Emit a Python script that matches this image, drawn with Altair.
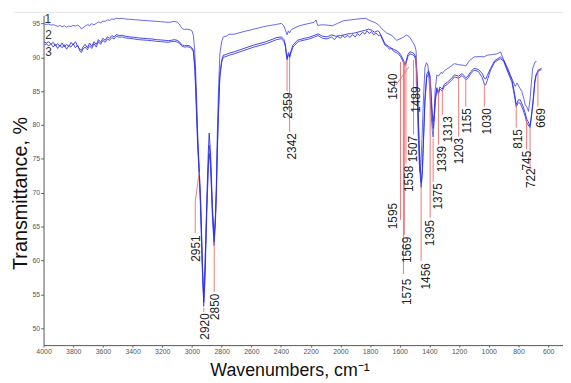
import altair as alt
import pandas as pd

# ---------------- data ----------------
CURVE_NAMES = ["1", "2", "3"]

CURVE_1 = [
    (3995, 94.9), (3980, 94.85), (3965, 94.9), (3950, 94.75), (3935, 94.8), (3920, 94.7), (3905, 94.55),
    (3890, 94.7), (3875, 94.5), (3860, 94.65), (3845, 94.45), (3830, 94.6), (3815, 94.55), (3800, 94.7),
    (3785, 94.6), (3770, 94.75), (3755, 94.5), (3745, 94.2), (3735, 94.35), (3720, 94.6), (3705, 94.8),
    (3690, 94.7), (3675, 94.95), (3660, 94.8), (3645, 95.0), (3630, 95.2), (3615, 95.1), (3600, 95.35),
    (3585, 95.3), (3570, 95.5), (3555, 95.45), (3540, 95.65), (3525, 95.6), (3510, 95.75), (3490, 95.7),
    (3470, 95.75), (3450, 95.65), (3420, 95.6), (3390, 95.55), (3360, 95.5), (3330, 95.45), (3300, 95.4),
    (3270, 95.35), (3240, 95.3), (3210, 95.25), (3180, 95.2), (3160, 95.15), (3140, 95.2), (3120, 95.3),
    (3100, 95.2), (3085, 94.9), (3075, 94.5), (3065, 94.2), (3050, 94.1), (3035, 94.15), (3020, 94.1),
    (3010, 94.05), (3000, 93.9),
    (2990, 93.2), (2980, 90.5), (2970, 85.0), (2962, 79.0), (2951, 73.5), (2942, 69.5), (2930, 60.0),
    (2921, 53.2), (2912, 57.0), (2900, 67.0), (2890, 74.0), (2884, 77.0), (2875, 75.0), (2862, 67.0),
    (2851, 62.8), (2842, 66.0), (2835, 72.0), (2829, 79.0), (2820, 86.0), (2812, 90.5), (2800, 92.3),
    (2789, 93.0), (2770, 93.1), (2750, 93.4), (2716, 93.4), (2650, 93.8), (2583, 94.15), (2500, 94.6),
    (2430, 94.85), (2397, 95.0), (2380, 94.6), (2368, 93.9), (2359, 93.3), (2350, 93.9), (2342, 93.6),
    (2330, 94.1), (2319, 94.2), (2277, 94.65), (2230, 94.9), (2177, 95.15), (2164, 95.5), (2157, 95.0),
    (2152, 94.7), (2120, 94.8), (2090, 94.75), (2053, 94.65), (2020, 95.0), (1977, 95.4), (1940, 95.5),
    (1900, 95.6), (1860, 95.7), (1831, 95.75), (1800, 95.4), (1764, 95.1), (1740, 94.7), (1720, 94.2),
    (1690, 93.6), (1653, 93.2), (1620, 92.5), (1600, 92.7), (1576, 92.95), (1554, 93.3), (1532, 92.95),
    (1512, 92.2), (1500, 91.8), (1490, 91.0), (1485, 88.0), (1478, 80.0), (1470, 75.0), (1465, 73.0),
    (1458, 74.0), (1450, 78.0), (1440, 84.0), (1430, 88.5), (1420, 89.2), (1410, 88.8), (1400, 86.0),
    (1390, 82.0), (1380, 79.0), (1375, 78.2), (1370, 80.0), (1362, 85.0), (1350, 87.4), (1339, 87.2),
    (1320, 87.8), (1313, 87.6), (1300, 88.0), (1260, 88.6), (1232, 89.05), (1203, 88.9), (1166, 88.8),
    (1155, 88.7), (1130, 89.5), (1099, 90.05), (1060, 90.1), (1032, 90.05), (1011, 90.3), (980, 90.4),
    (944, 90.5), (921, 90.8), (900, 89.6), (870, 88.3), (855, 87.4), (840, 86.6), (822, 85.7), (810, 86.2),
    (795, 85.6), (778, 84.95), (765, 84.0), (755, 83.0), (740, 82.5), (733, 82.0), (722, 83.7), (712, 86.5),
    (705, 88.3), (689, 89.3), (678, 89.4),
]

CURVE_2 = [
    (3995, 92.25), (3980, 92.1), (3965, 92.3), (3950, 91.9), (3935, 92.2), (3920, 91.7), (3905, 92.0),
    (3890, 91.6), (3875, 92.1), (3860, 91.5), (3845, 91.9), (3830, 91.6), (3815, 92.2), (3800, 91.8),
    (3785, 92.3), (3770, 91.6), (3755, 91.2), (3745, 91.0), (3735, 91.5), (3720, 91.9), (3705, 91.4),
    (3690, 92.1), (3675, 91.6), (3660, 92.3), (3645, 91.9), (3630, 92.6), (3615, 92.2), (3600, 92.8),
    (3585, 92.5), (3570, 93.0), (3555, 92.8), (3540, 93.2), (3525, 93.0), (3510, 93.35), (3490, 93.2),
    (3470, 93.25), (3450, 93.1), (3420, 93.0), (3390, 92.95), (3360, 92.85), (3330, 92.8), (3300, 92.75),
    (3270, 92.7), (3240, 92.6), (3210, 92.55), (3180, 92.5), (3160, 92.45), (3140, 92.5), (3120, 92.6),
    (3100, 92.5), (3085, 92.3), (3075, 92.0), (3065, 91.8), (3050, 91.7), (3035, 91.75), (3020, 91.7),
    (3010, 91.6), (3000, 91.4),
    (2990, 91.0), (2980, 88.5), (2970, 83.0), (2962, 78.0), (2951, 73.0), (2942, 68.5), (2930, 59.5),
    (2921, 53.8), (2912, 58.5), (2900, 69.0), (2890, 76.0), (2884, 78.8), (2875, 76.0), (2862, 68.0),
    (2851, 63.6), (2842, 66.5), (2835, 71.0), (2829, 77.0), (2820, 83.0), (2812, 87.5), (2800, 89.5),
    (2789, 90.3), (2770, 90.4), (2750, 90.6), (2716, 90.8), (2650, 91.3), (2583, 91.8), (2500, 92.3),
    (2430, 92.9), (2397, 93.0), (2380, 92.6), (2370, 91.8), (2362, 90.2), (2359, 89.8), (2352, 90.6),
    (2347, 90.7), (2342, 90.1), (2335, 90.8), (2320, 91.75), (2290, 92.5), (2277, 92.6), (2240, 92.8),
    (2210, 92.95), (2180, 93.2), (2150, 93.45), (2120, 93.1), (2090, 93.0), (2060, 93.3), (2030, 93.1),
    (2000, 93.2), (1975, 93.3), (1950, 93.45), (1925, 93.5), (1900, 93.6), (1875, 93.75), (1850, 93.9),
    (1830, 94.0), (1810, 94.15), (1790, 94.0), (1770, 93.7), (1750, 93.9), (1740, 93.8), (1720, 93.0),
    (1700, 92.0), (1670, 91.5), (1643, 91.2), (1625, 91.0), (1609, 90.8), (1595, 90.4), (1582, 89.9),
    (1570, 89.3), (1562, 89.0), (1555, 89.6), (1545, 90.4), (1532, 90.8), (1515, 90.7), (1503, 90.5),
    (1492, 90.0), (1486, 88.0), (1478, 84.0), (1470, 78.0), (1462, 73.5), (1456, 71.5), (1448, 73.5),
    (1440, 78.0), (1430, 84.0), (1418, 87.5), (1405, 88.0), (1395, 87.2), (1388, 84.5), (1380, 81.5),
    (1375, 80.5), (1368, 81.5), (1360, 84.0), (1350, 85.5), (1339, 84.8), (1330, 85.6), (1313, 85.3),
    (1300, 86.0), (1280, 86.3), (1250, 86.9), (1232, 87.4), (1203, 87.2), (1180, 87.6), (1155, 87.0),
    (1144, 87.1), (1120, 87.9), (1099, 88.35), (1070, 88.2), (1044, 87.6), (1030, 86.9), (1021, 86.8),
    (1010, 87.3), (988, 88.35), (960, 89.5), (921, 90.05), (900, 89.6), (870, 88.0), (844, 86.7),
    (825, 84.5), (815, 83.0), (800, 83.7), (788, 83.7), (770, 82.8), (755, 81.8), (745, 80.9), (735, 80.5),
    (722, 79.85), (710, 82.0), (700, 84.0), (690, 86.5), (682, 87.4), (667, 88.1), (645, 88.35),
]

CURVE_3 = [
    (3995, 91.85), (3980, 91.95), (3965, 91.7), (3950, 92.0), (3935, 91.5), (3920, 91.9), (3905, 91.3),
    (3890, 91.8), (3875, 91.4), (3860, 91.85), (3845, 91.2), (3830, 91.7), (3815, 91.5), (3800, 92.0),
    (3785, 91.4), (3770, 91.8), (3755, 90.9), (3745, 90.7), (3735, 91.2), (3720, 91.5), (3705, 91.1),
    (3690, 91.7), (3675, 91.3), (3660, 92.0), (3645, 91.5), (3630, 92.3), (3615, 91.9), (3600, 92.5),
    (3585, 92.2), (3570, 92.7), (3555, 92.5), (3540, 92.9), (3525, 92.7), (3510, 93.1), (3490, 92.95),
    (3470, 93.0), (3450, 92.85), (3420, 92.8), (3390, 92.7), (3360, 92.6), (3330, 92.55), (3300, 92.5),
    (3270, 92.45), (3240, 92.35), (3210, 92.3), (3180, 92.25), (3160, 92.2), (3140, 92.3), (3120, 92.35),
    (3100, 92.25), (3085, 92.05), (3075, 91.8), (3065, 91.6), (3050, 91.5), (3035, 91.55), (3020, 91.5),
    (3010, 91.4), (3000, 91.2),
    (2990, 90.8), (2980, 88.0), (2970, 82.0), (2962, 77.0), (2951, 72.5), (2942, 67.5), (2930, 58.5),
    (2921, 54.5), (2912, 59.5), (2900, 68.0), (2890, 73.5), (2884, 75.8), (2875, 74.0), (2862, 66.5),
    (2851, 62.2), (2842, 65.5), (2835, 70.0), (2829, 76.0), (2820, 82.5), (2812, 87.0), (2800, 89.2),
    (2789, 90.0), (2770, 90.1), (2750, 90.3), (2716, 90.5), (2650, 91.0), (2583, 91.5), (2500, 92.0),
    (2430, 92.6), (2397, 92.75), (2380, 92.3), (2370, 91.5), (2362, 90.0), (2359, 89.6), (2352, 90.3),
    (2347, 90.4), (2342, 89.9), (2335, 90.5), (2320, 91.5), (2290, 92.2), (2277, 92.35), (2240, 92.55),
    (2210, 92.7), (2180, 92.95), (2150, 93.2), (2120, 92.8), (2090, 92.7), (2060, 93.0), (2040, 92.6),
    (2020, 93.1), (2000, 92.8), (1985, 93.2), (1970, 92.9), (1950, 93.25), (1935, 92.9), (1920, 93.35),
    (1900, 93.0), (1885, 93.5), (1870, 93.2), (1850, 93.7), (1835, 93.4), (1820, 93.9), (1805, 93.5),
    (1790, 93.8), (1775, 93.3), (1760, 93.6), (1745, 93.2), (1730, 93.3), (1715, 92.5), (1700, 91.8),
    (1685, 91.6), (1670, 91.2), (1655, 91.3), (1643, 90.9), (1625, 90.7), (1609, 90.5), (1595, 90.1),
    (1582, 89.6), (1570, 89.0), (1562, 88.8), (1555, 89.3), (1545, 90.1), (1532, 90.5), (1515, 90.4),
    (1503, 90.2), (1492, 89.6), (1486, 87.5), (1478, 83.0), (1470, 77.0), (1462, 72.5), (1456, 70.8),
    (1448, 72.5), (1440, 77.5), (1430, 83.5), (1418, 87.0), (1405, 87.6), (1395, 86.8), (1388, 83.5),
    (1380, 80.5), (1375, 79.5), (1368, 80.8), (1360, 83.5), (1350, 85.2), (1339, 84.5), (1330, 85.3),
    (1313, 85.0), (1300, 85.7), (1280, 86.0), (1250, 86.6), (1232, 87.1), (1203, 86.9), (1180, 87.3),
    (1155, 86.7), (1144, 86.8), (1120, 87.6), (1099, 88.1), (1070, 87.9), (1044, 87.0), (1030, 86.0),
    (1021, 85.9), (1010, 86.6), (988, 88.1), (960, 89.3), (921, 89.8), (900, 89.4), (870, 87.7),
    (844, 86.3), (825, 84.0), (815, 82.7), (800, 83.3), (788, 83.2), (770, 82.3), (755, 81.3), (745, 80.4),
    (735, 80.0), (722, 79.6), (710, 81.6), (700, 83.6), (690, 86.2), (682, 87.2), (667, 87.9), (645, 88.2),
]

# curve number tags (wavenumber, transmittance)
CURVE_TAG_WN = [3972, 3966, 3966]
CURVE_TAG_T = [95.6, 93.3, 90.8]

# peak annotations: label, text anchor (wavenumber, transmittance at text top)
PEAK_LABELS = ["2951", "2920", "2850", "2359", "2342", "1595", "1575", "1569", "1558", "1540",
               "1507", "1489", "1456", "1395", "1375", "1339", "1313", "1203", "1155", "1030",
               "815", "745", "722", "669"]
TEXT_WN = [2973, 2915, 2842, 2350, 2323, 1643, 1548, 1548, 1536, 1648,
           1510, 1487, 1422, 1399, 1343, 1314, 1277, 1199, 1148, 1011,
           800, 740, 718, 651]
TEXT_TOP = [63.7, 52.2, 55.1, 84.8, 78.8, 68.5, 57.3, 63.5, 74.0, 87.6,
            78.4, 85.7, 59.6, 66.0, 71.4, 76.9, 81.3, 78.1, 82.5, 82.5,
            79.4, 76.2, 73.6, 82.5]

# red marker segments (wn1, T1, wn2, T2)
SEGMENTS = [
    (2951, 73.0, 2978, 68.7), (2978, 68.7, 2978, 64.0),
    (2920, 53.0, 2920, 52.4),
    (2850, 62.6, 2850, 55.4),
    (2359, 89.8, 2359, 85.0),
    (2342, 90.0, 2342, 79.0),
    (1595, 89.3, 1595, 66.0),
    (1575, 89.5, 1575, 58.0),
    (1569, 89.3, 1569, 63.8),
    (1558, 89.4, 1558, 74.3),
    (1625, 85.9, 1538, 88.6),
    (1507, 89.6, 1507, 78.6),
    (1489, 90.0, 1489, 86.0),
    (1456, 71.0, 1456, 59.9),
    (1395, 87.0, 1395, 66.3),
    (1375, 78.0, 1375, 71.6),
    (1339, 85.0, 1339, 77.1),
    (1313, 85.2, 1313, 81.5),
    (1203, 87.2, 1203, 78.3),
    (1155, 86.9, 1155, 82.7),
    (1030, 86.0, 1030, 82.7),
    (815, 83.0, 815, 79.6),
    (745, 80.8, 745, 76.4),
    (722, 79.7, 722, 73.8),
    (669, 88.2, 669, 82.7),
]

X_TICKS = [4000, 3800, 3600, 3400, 3200, 3000, 2800, 2600, 2400, 2200, 2000,
           1800, 1600, 1400, 1200, 1000, 800, 600]
Y_TICKS = [50, 55, 60, 65, 70, 75, 80, 85, 90, 95]

# ---------------- tables ----------------
rows = []
for name, curve in zip(CURVE_NAMES, [CURVE_1, CURVE_2, CURVE_3]):
    for w, t in curve:
        rows.append({"wn": w, "T": t, "curve": name})
curves_df = pd.DataFrame(rows)

seg_df = pd.DataFrame(SEGMENTS, columns=["wn", "T", "wn2", "T2"])
lab_df = pd.DataFrame({"wn": TEXT_WN, "T": TEXT_TOP, "label": PEAK_LABELS})
tag_df = pd.DataFrame({"wn": CURVE_TAG_WN, "T": CURVE_TAG_T, "label": CURVE_NAMES})

FONT = "Liberation Sans, Arial, Helvetica, sans-serif"
xscale = alt.Scale(domain=[500, 4000], reverse=True, nice=False, zero=False)
yscale = alt.Scale(domain=[47.5, 96.2], nice=False, zero=False)

x_axis = alt.Axis(values=X_TICKS, format="d", labelFontSize=7, labelColor="#555", labelFont=FONT,
                  labelFlush=False, labelOverlap=False,
                  tickSize=2, tickColor="#666", labelPadding=1, domainColor="#555", grid=False,
                  title="Wavenumbers, cm⁻¹", titleFont=FONT, titleFontSize=18, titleFontWeight="normal",
                  titleColor="#111", titleX=249, titleY=31, titleBaseline="alphabetic", titleAlign="center")
y_axis = alt.Axis(values=Y_TICKS, format="d", labelFontSize=7, labelColor="#555", labelFont=FONT,
                  labelFlush=False, labelOverlap=False,
                  tickSize=3, tickColor="#666", labelPadding=1, domainColor="#555", grid=False,
                  title="Transmittance, %", titleFont=FONT, titleFontSize=20, titleFontWeight="normal",
                  titleColor="#111", titleX=-17, titleY=180, titleAngle=270,
                  titleBaseline="alphabetic", titleAlign="center")

X = alt.X("wn:Q", scale=xscale, axis=x_axis, title="Wavenumbers, cm⁻¹")
Y = alt.Y("T:Q", scale=yscale, axis=y_axis, title="Transmittance, %")

lines = alt.Chart(curves_df).mark_line(strokeWidth=1, opacity=0.85).encode(
    x=X, y=Y,
    color=alt.Color("curve:N", scale=alt.Scale(domain=CURVE_NAMES,
                                               range=["#4b4bf0", "#2424e0", "#3030e6"]), legend=None),
    detail="curve:N",
)

segs = alt.Chart(seg_df).mark_rule(color="#f06a6a", strokeWidth=1, opacity=0.9).encode(
    x=X, y=Y, x2="wn2:Q", y2="T2:Q",
)

labels = alt.Chart(lab_df).mark_text(angle=270, align="right", baseline="middle",
                                     fontSize=12, font=FONT, color="#222").encode(
    x=X, y=Y, text="label:N",
)

tags = alt.Chart(tag_df).mark_text(align="center", baseline="middle", fontSize=12,
                                   font=FONT, color="#333").encode(
    x=X, y=Y, text="label:N",
)

border = alt.Chart(pd.DataFrame({"a": [0]})).mark_rule(color="#e4e4e4", strokeWidth=1).encode(
    x=alt.value(-30), x2=alt.value(526), y=alt.value(-3)
)

chart = alt.layer(lines, segs, labels, tags, border).properties(
    width=526, height=334,
    padding={"left": 36, "top": 5, "right": 0, "bottom": 34},
    autosize="none",
    background="white",
).configure_view(stroke=None)

chart.save("out.html", embed_options={"renderer": "svg", "actions": False})
